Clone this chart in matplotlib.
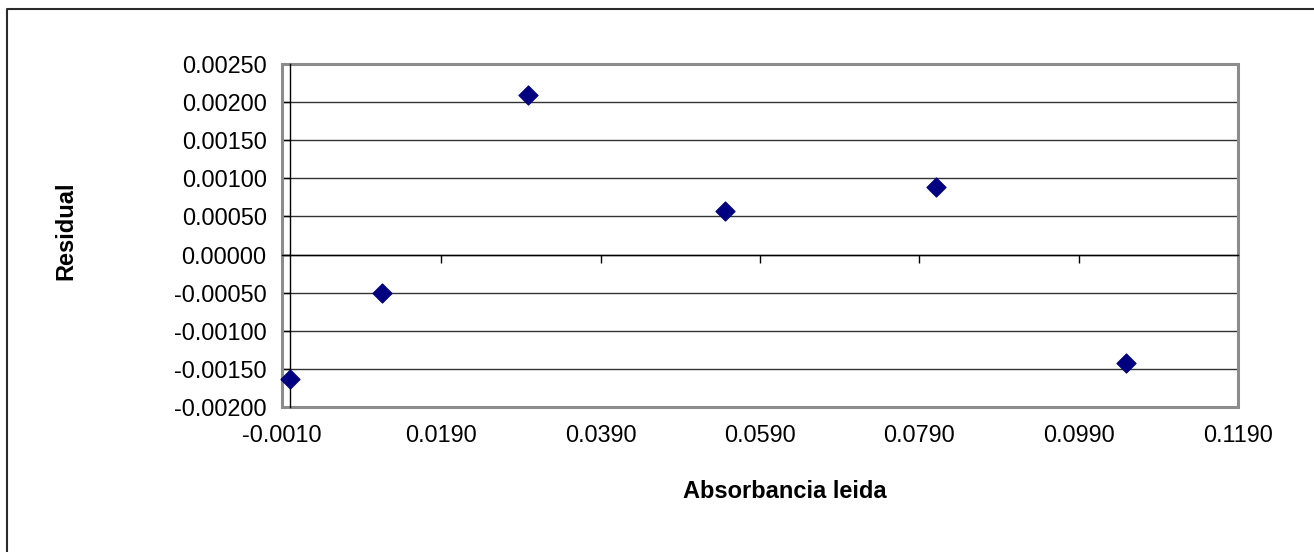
import matplotlib
matplotlib.use("Agg")
import matplotlib.pyplot as plt
from matplotlib.patches import Rectangle
from matplotlib.lines import Line2D

# Data
absorbancia = [0.0000, 0.0116, 0.0299, 0.0546, 0.0811, 0.1049]
residual = [-0.00163, -0.00050, 0.00209, 0.00057, 0.00088, -0.00142]
x_ticks = [-0.001, 0.019, 0.039, 0.059, 0.079, 0.099, 0.119]
y_ticks = [-0.002, -0.0015, -0.001, -0.0005, 0.0, 0.0005, 0.001, 0.0015, 0.002, 0.0025]
x_label = "Absorbancia leida"
y_label = "Residual"

plt.rcParams['font.family'] = ['Liberation Sans', 'DejaVu Sans']

W, H = 1314, 552
fig = plt.figure(figsize=(W / 100, H / 100), dpi=100)
fig.patch.set_facecolor('white')

left, right, top, bottom = 282, 1238, 64, 407
ax = fig.add_axes([left / W, 1 - bottom / H, (right - left) / W, (bottom - top) / H])
ax.set_xlim(-0.001, 0.119)
ax.set_ylim(-0.002, 0.0025)

# gridlines
ax.set_yticks(y_ticks)
ax.yaxis.grid(True, color='#333333', lw=1.0)
ax.set_axisbelow(True)

# spines crossing at zero
for s in ['top', 'right']:
    ax.spines[s].set_visible(False)
ax.spines['bottom'].set_position(('data', 0))
ax.spines['left'].set_position(('data', 0))
ax.spines['bottom'].set_color('black')
ax.spines['left'].set_color('black')
ax.spines['bottom'].set_linewidth(1.0)
ax.spines['left'].set_linewidth(1.0)
ax.set_xticks(x_ticks)
ax.tick_params(axis='x', direction='out', length=6, width=1, labelbottom=False, color='black')
ax.tick_params(axis='y', direction='out', length=6, width=1, labelleft=False, color='black')

# plot area border
ax.add_patch(Rectangle((0, 0), 1, 1, transform=ax.transAxes, fill=False,
                       edgecolor='#8c8c8c', lw=2.2, clip_on=False, zorder=1))

# labels on secondary axes at plot edges
fs = 16.8
secx = ax.secondary_xaxis(0)
secx.set_xticks(x_ticks)
secx.set_xticklabels([f"{v:.4f}" for v in x_ticks], fontsize=fs)
secx.tick_params(length=0, pad=12)
secx.spines['bottom'].set_visible(False)

secy = ax.secondary_yaxis(0)
secy.set_yticks(y_ticks)
secy.set_yticklabels([f"{v:.5f}" for v in y_ticks], fontsize=fs)
secy.tick_params(length=0, pad=11)
secy.spines['left'].set_visible(False)

ax.scatter(absorbancia, residual, marker='D', s=95, color='#000080',
           edgecolors='#000080', linewidths=0.8, zorder=5, clip_on=False)

fig.text(785 / W, 1 - 492 / H, x_label, fontsize=17, fontweight='bold',
         ha='center', va='center')
fig.text(66 / W, 1 - 231 / H, y_label, fontsize=17, fontweight='bold',
         ha='center', va='center', rotation=90)

# outer chart border
fig.add_artist(Line2D([7 / W, 7 / W, 1.0], [0.0, 1 - 9 / H, 1 - 9 / H],
                      transform=fig.transFigure, color='#2a2a2a', lw=1.5))

fig.savefig('out.png', dpi=100)
